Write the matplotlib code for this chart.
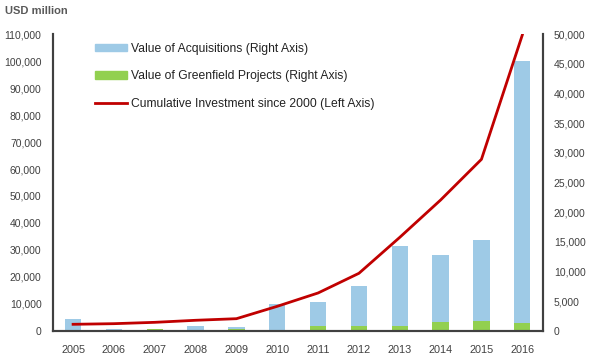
import matplotlib
matplotlib.use("Agg")
import matplotlib.pyplot as plt
from matplotlib.ticker import FuncFormatter, MultipleLocator
from matplotlib.patches import Patch
from matplotlib.lines import Line2D

plt.rcParams['font.family'] = ['Liberation Sans', 'DejaVu Sans']

years = ['2005', '2006', '2007', '2008', '2009', '2010', '2011', '2012', '2013', '2014', '2015', '2016']
acquisitions = [2000, 200, 100, 750, 450, 4450, 4000, 6700, 13450, 11300, 13600, 44250]
greenfield = [0, 50, 200, 50, 200, 100, 850, 850, 850, 1470, 1700, 1300]
cumulative = [2370, 2600, 3100, 3860, 4450, 9050, 14000, 21300, 34650, 48500, 63600, 109700]

BLUE = '#9ECAE6'
GREEN = '#92D050'
RED = '#C00000'
SPINE = '#404040'
TXT = '#404040'

fig = plt.figure(figsize=(6.0, 3.58), dpi=100)
ax = fig.add_axes([0.0878, 0.0763, 0.8167, 0.8279])
ax2 = ax.twinx()

x = list(range(len(years)))
ax2.bar(x, greenfield, width=0.4, color=GREEN, zorder=2)
ax2.bar(x, acquisitions, width=0.4, bottom=greenfield, color=BLUE, zorder=2)
ax.plot(x, cumulative, color=RED, lw=2, zorder=5)

ax.set_zorder(ax2.get_zorder() + 1)
ax.patch.set_visible(False)

ax.set_xlim(-0.5, 11.5)
ax.set_ylim(0, 110000)
ax2.set_ylim(0, 50000)
ax.yaxis.set_major_locator(MultipleLocator(10000))
ax2.yaxis.set_major_locator(MultipleLocator(5000))
fmt = FuncFormatter(lambda v, p: f'{int(v):,}')
ax.yaxis.set_major_formatter(fmt)
ax2.yaxis.set_major_formatter(fmt)
ax.set_xticks(x)
ax.set_xticklabels(years)

for a in (ax, ax2):
    a.spines['top'].set_visible(False)
    for s in ('left', 'right', 'bottom'):
        a.spines[s].set_color(SPINE)
        a.spines[s].set_linewidth(1.5)
    a.tick_params(length=0, labelsize=7.5, colors=TXT)
ax.tick_params(axis='y', pad=8)
ax2.tick_params(axis='y', pad=8)
ax.tick_params(axis='x', pad=10, labelsize=7.8)

handles = [Patch(color=BLUE), Patch(color=GREEN), Line2D([0], [0], color=RED, lw=2)]
labels = ['Value of Acquisitions (Right Axis)', 'Value of Greenfield Projects (Right Axis)',
          'Cumulative Investment since 2000 (Left Axis)']
ax.legend(handles, labels, loc='upper left', bbox_to_anchor=(0.07, 1.0), frameon=False,
          fontsize=8.7, labelspacing=1.28, handlelength=2.6, handleheight=0.55, handletextpad=0.35,
          labelcolor='#222222', borderaxespad=0.3)

fig.text(0.009, 0.97, 'USD million', fontsize=8, fontweight='bold', color='#595959',
         ha='left', va='center')

fig.savefig('out.png', dpi=100)
